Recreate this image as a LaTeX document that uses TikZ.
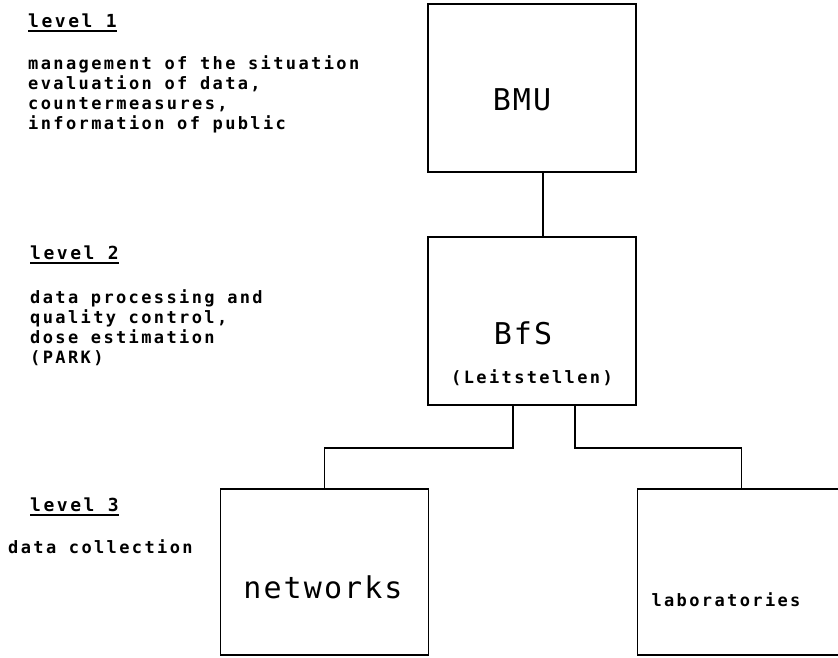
\documentclass[tikz,border=0pt]{standalone}
\usepackage{fontspec}
\newfontfamily\plotfont[LetterSpace=14]{DejaVu Sans Mono}
\newfontfamily\plotbig[LetterSpace=7]{DejaVu Sans Mono}
\tikzset{
  unit/.style={draw, line width=1.6pt, minimum width=208pt, minimum height=168pt, inner sep=0pt},
  smalltext/.style={font=\plotfont\bfseries\fontsize{17}{20}\selectfont, inner sep=0pt},
  bigtext/.style={font=\plotbig\fontsize{30}{36}\selectfont, inner sep=0pt},
  levelhead/.style={font=\plotfont\bfseries\fontsize{18}{20}\selectfont, inner sep=0pt, anchor=base west},
  wire/.style={line width=1.6pt},
}
\begin{document}
\begin{tikzpicture}[x=1pt,y=-1pt]
\useasboundingbox (0,0) rectangle (838,657);
% boxes
\node[unit] (bmu) at (532,88) {};
\node[unit] (bfs) at (532,321) {};
\node[unit, minimum height=166pt] (net) at (324.5,572) {};
\node[unit, minimum height=166pt] (lab) at (741.5,572) {};
% box texts
\node[bigtext] (bmutxt) at (522,100) {BMU};
\node[bigtext] (bfstxt) at (523,333) {BfS};
\node[smalltext] (leit) at (532,378) {(Leitstellen)};
\node[bigtext] (nettxt) at (323,587) {networks};
\node[smalltext] (labtxt) at (726,600) {laboratories};
% connectors
\draw[wire] ([xshift=11pt]bmu.south) -- ([xshift=11pt]bfs.north);
\draw[wire] ([xshift=-19pt]bfs.south) -- ++(0,42) -| (net.north);
\draw[wire] ([xshift=43pt]bfs.south) -- ++(0,42) -| (lab.north);
% levels
\node[levelhead] (lv1) at (28,27) {level 1};
\draw[line width=2pt] ([yshift=-4pt]lv1.base west) -- ([yshift=-4pt]lv1.base east);
\node[smalltext, anchor=north west, align=left] (task1) at (28,55)
  {management of the situation\\evaluation of data,\\countermeasures,\\information of public};
\node[levelhead] (lv2) at (30,259) {level 2};
\draw[line width=2pt] ([yshift=-4pt]lv2.base west) -- ([yshift=-4pt]lv2.base east);
\node[smalltext, anchor=north west, align=left] (task2) at (30,289)
  {data processing and\\quality control,\\dose estimation\\(PARK)};
\node[levelhead] (lv3) at (30,511) {level 3};
\draw[line width=2pt] ([yshift=-4pt]lv3.base west) -- ([yshift=-4pt]lv3.base east);
\node[smalltext, anchor=base west] (task3) at (8,553) {data collection};
\end{tikzpicture}
\end{document}
